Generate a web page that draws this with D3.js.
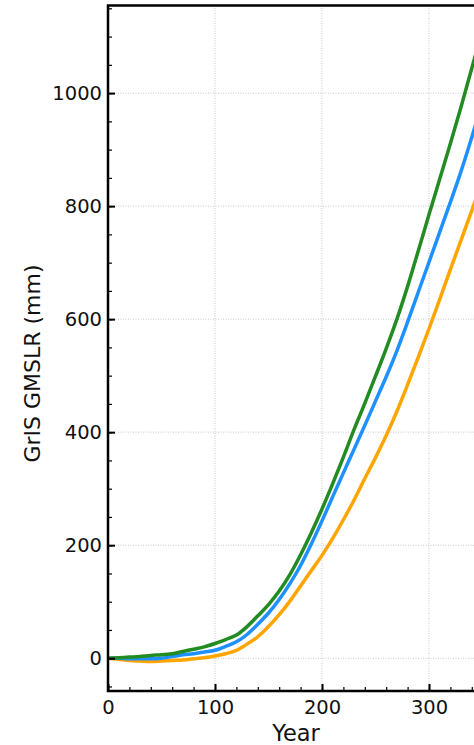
<!DOCTYPE html>
<html>
<head>
<meta charset="utf-8">
<script src="https://cdn.jsdelivr.net/npm/d3@7"></script>
<style>
  body { margin: 0; background: #fff; }
  svg { display: block; font-family: "DejaVu Sans", sans-serif; }
</style>
</head>
<body>
<div id="chart"></div>
<script>
// years every 10, GMSLR in mm
let years = d3.range(0, 360, 10);
let green = [0, 1, 2, 3, 5, 6, 8, 12, 16, 20, 26, 33, 41, 56, 75, 95, 119, 148,
    183, 222, 264, 309, 356, 405, 451, 499, 548, 600, 658, 721, 785, 848, 911, 976, 1044, 1112];
let blue = [0, 0, -1, -1, -1, 0, 3, 6, 8, 11, 14, 21, 29, 42, 60, 80, 104, 132,
    164, 202, 243, 286, 328, 370, 412, 455, 498, 544, 595, 648, 701, 754, 807, 862, 922, 985];
let orange = [0, -2, -4, -5, -6, -5, -4, -3, -1, 1, 4, 8, 14, 25, 38, 56, 77, 101,
    128, 155, 182, 212, 245, 280, 318, 355, 394, 437, 484, 533, 583, 635, 688, 740, 792, 845];
let xTicks = [0, 100, 200, 300];
let yTicks = [0, 200, 400, 600, 800, 1000];

let W = 474, H = 745;
let margin = {top: 5.5, left: 108};
let width = 374.5, height = 685.5;

let svg = d3.select("#chart").append("svg")
    .attr("width", W)
    .attr("height", H);

let x = d3.scaleLinear().domain([0, 350]).range([0, width]);
let y = d3.scaleLinear().domain([-58, 1155]).range([height, 0]);

let g = svg.append("g")
    .attr("transform", "translate(" + margin.left + "," + margin.top + ")");

g.append("clipPath").attr("id", "clip")
    .append("rect").attr("width", width).attr("height", height);

// dotted grid
g.append("g").selectAll("line").data(xTicks).join("line")
    .attr("x1", d => x(d)).attr("x2", d => x(d))
    .attr("y1", 0).attr("y2", height)
    .attr("stroke", "#b8b8b8").attr("stroke-width", 0.8)
    .attr("stroke-dasharray", "1,1.5");
g.append("g").selectAll("line").data(yTicks).join("line")
    .attr("x1", 0).attr("x2", width)
    .attr("y1", d => y(d)).attr("y2", d => y(d))
    .attr("stroke", "#b8b8b8").attr("stroke-width", 0.8)
    .attr("stroke-dasharray", "1,1.5");

// curves
let line = d3.line()
    .x((d, i) => x(years[i]))
    .y(d => y(d))
    .curve(d3.curveMonotoneX);

let series = [
    {vals: orange, color: "#ffa500"},
    {vals: blue, color: "#1e90ff"},
    {vals: green, color: "#228b22"}
];
g.append("g").attr("clip-path", "url(#clip)")
    .selectAll("path").data(series).join("path")
    .attr("d", d => line(d.vals))
    .attr("fill", "none")
    .attr("stroke", d => d.color)
    .attr("stroke-width", 3.5)
    .attr("stroke-linejoin", "round");

// minor ticks
g.append("g")
    .attr("transform", "translate(0," + height + ")")
    .call(d3.axisBottom(x).tickValues(d3.range(0, 360, 20)).tickFormat("")
        .tickSizeInner(-4).tickSizeOuter(0))
    .call(a => a.select(".domain").remove())
    .selectAll("line").attr("stroke-width", 1.2);
g.append("g")
    .call(d3.axisLeft(y).tickValues(d3.range(-50, 1155, 50)).tickFormat("")
        .tickSizeInner(-4).tickSizeOuter(0))
    .call(a => a.select(".domain").remove())
    .selectAll("line").attr("stroke-width", 1.2);

// major ticks + labels
let xAxis = g.append("g")
    .attr("transform", "translate(0," + height + ")")
    .call(d3.axisBottom(x).tickValues(xTicks).tickSizeInner(-7).tickSizeOuter(0).tickPadding(9));
xAxis.select(".domain").remove();
xAxis.selectAll("line").attr("stroke-width", 2);
xAxis.selectAll("text").attr("font-size", 19.5).attr("fill", "#111")
    .attr("font-family", "DejaVu Sans");

let yAxis = g.append("g")
    .call(d3.axisLeft(y).tickValues(yTicks).tickFormat(d3.format("d"))
        .tickSizeInner(-7).tickSizeOuter(0).tickPadding(6));
yAxis.select(".domain").remove();
yAxis.selectAll("line").attr("stroke-width", 2);
yAxis.selectAll("text").attr("font-size", 19.5).attr("fill", "#111")
    .attr("font-family", "DejaVu Sans");

// spines
g.append("rect")
    .attr("width", width).attr("height", height)
    .attr("fill", "none").attr("stroke", "#000").attr("stroke-width", 2.5);

// axis titles
svg.append("text")
    .attr("x", 296).attr("y", 741)
    .attr("text-anchor", "middle")
    .attr("font-size", 22.5)
    .attr("fill", "#111")
    .text("Year");

svg.append("text")
    .attr("transform", "translate(40,363.5) rotate(-90)")
    .attr("text-anchor", "middle")
    .attr("font-size", 22)
    .attr("fill", "#111")
    .text("GrIS GMSLR (mm)");
</script>
</body>
</html>
